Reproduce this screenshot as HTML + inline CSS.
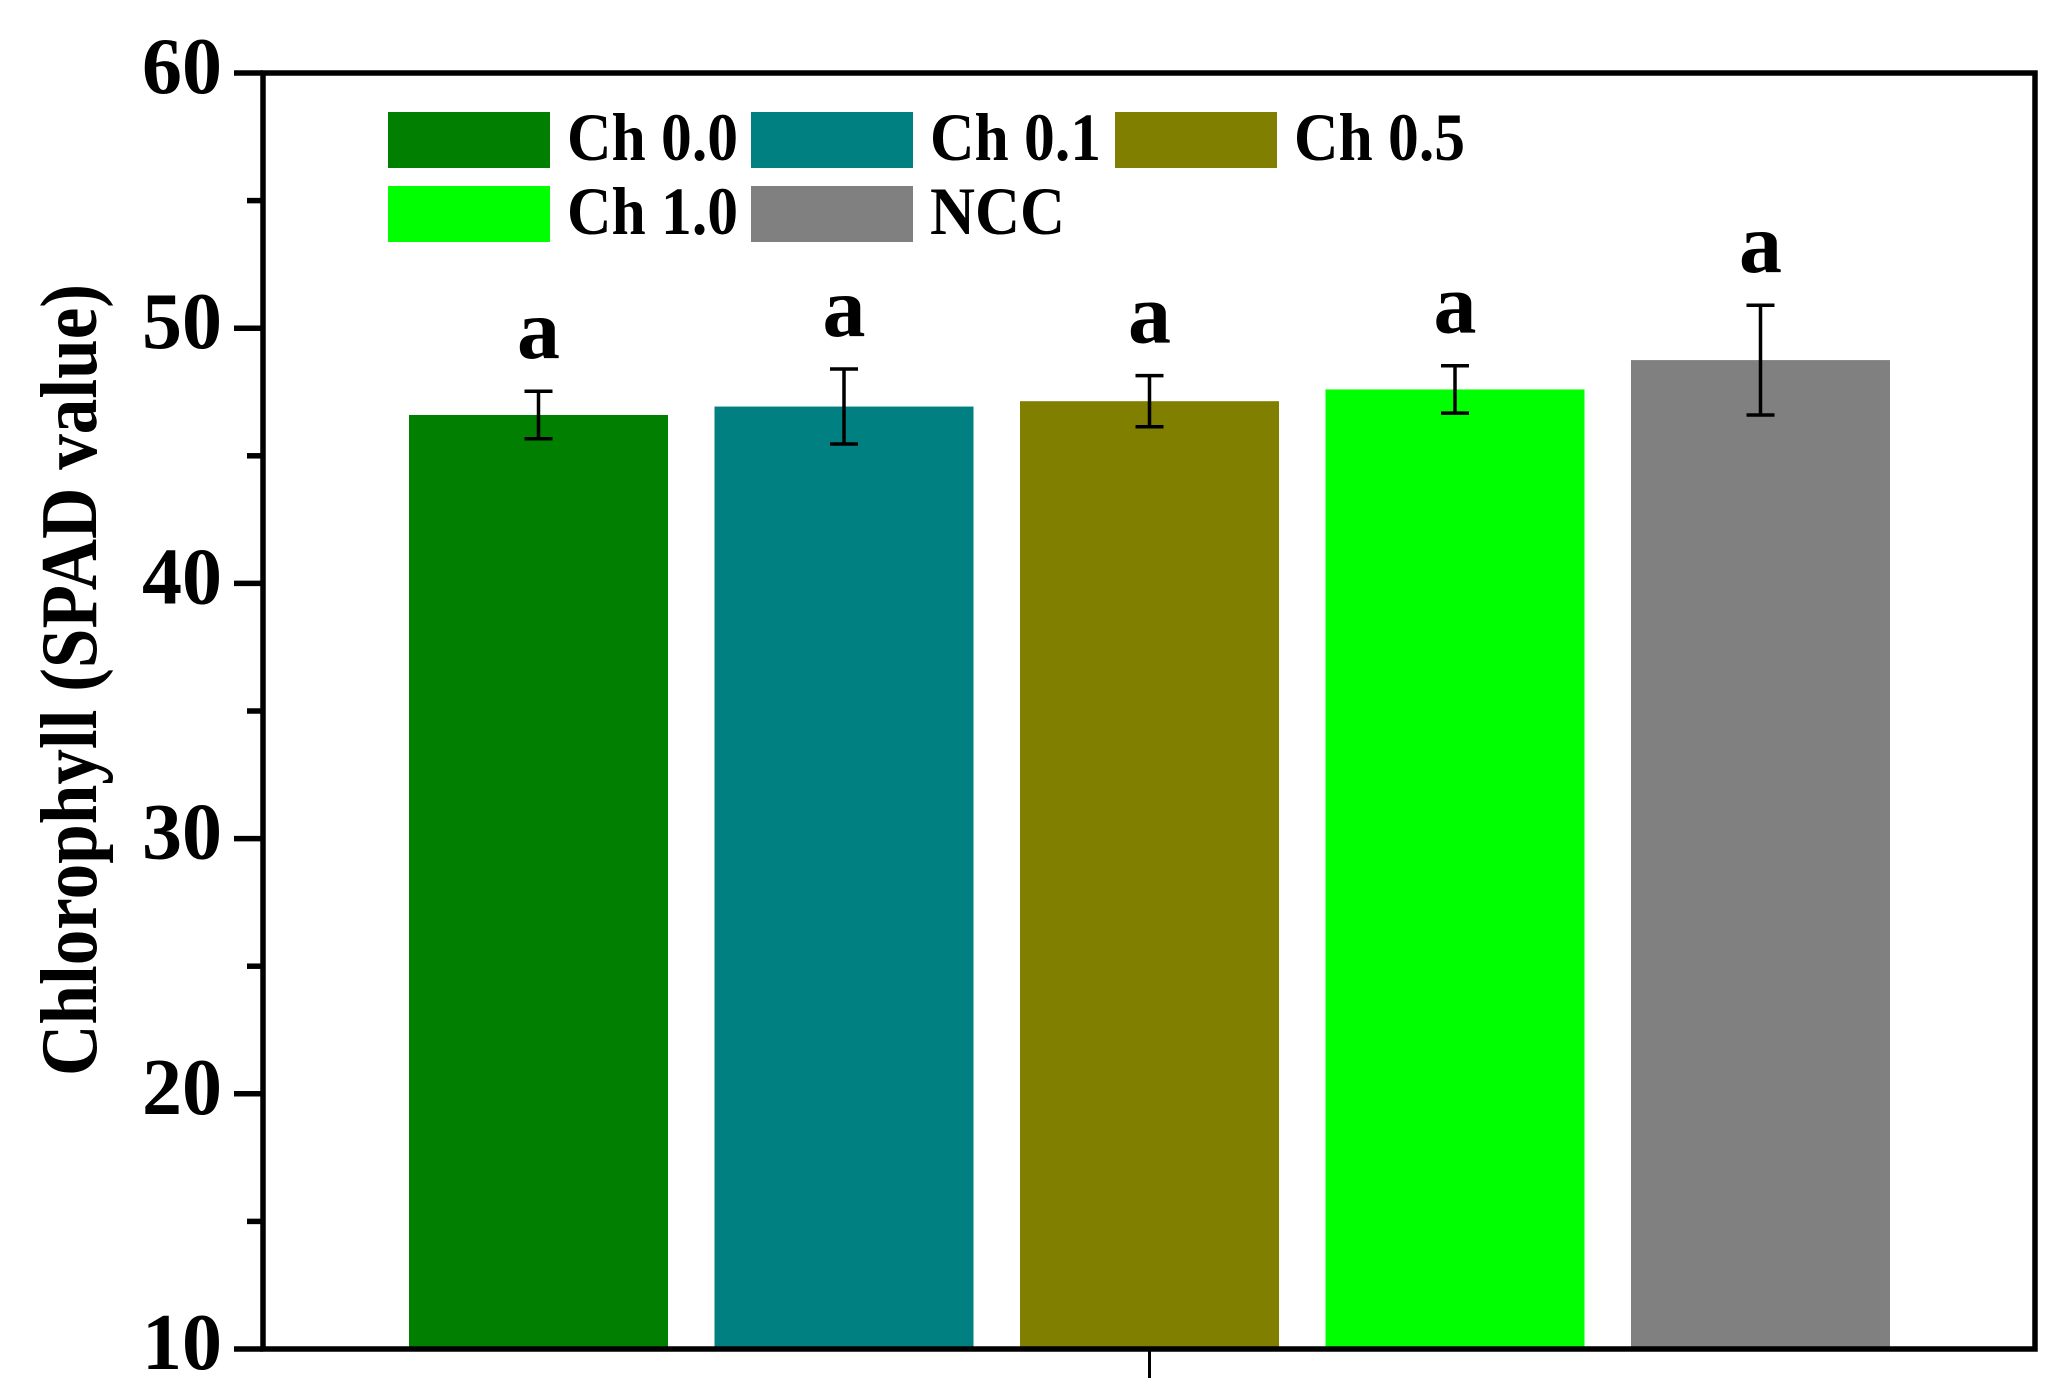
<!DOCTYPE html>
<html><head><meta charset="utf-8"><style>
html,body{margin:0;padding:0;background:#fff;}
svg{display:block;font-family:"Liberation Serif",serif;font-weight:bold;}
</style></head><body>
<svg id="chart" width="2069" height="1385" viewBox="0 0 2069 1385" xmlns="http://www.w3.org/2000/svg"></svg>
<script>
const categories = ["Ch 0.0","Ch 0.1","Ch 0.5","Ch 1.0","NCC"];
const values = [46.6, 46.93, 47.14, 47.6, 48.75];
const errors = [0.93, 1.47, 1.0, 0.93, 2.15];
const letters = ["a","a","a","a","a"];
const colors = ["#007f00","#008080","#807f00","#00ff00","#808080"];
const yTicks = [10,20,30,40,50,60];
const yMinor = [15,25,35,45,55];

const NS="http://www.w3.org/2000/svg";
const svg=document.getElementById('chart');
const L=263,R=2035,T=73,B=1349,yMin=10,yMax=60;
const y=v=>B-(v-yMin)/(yMax-yMin)*(B-T);
const barW=259,step=305.5,x0=409;
const xb=i=>x0+i*step;
function mk(tag,attrs){const e=document.createElementNS(NS,tag);for(const k in attrs)e.setAttribute(k,attrs[k]);svg.appendChild(e);return e;}

values.forEach((v,i)=>{
  const r=mk('rect',{x:xb(i),y:y(v),width:barW,height:B-y(v),fill:colors[i]});
  
  
  const cx=xb(i)+barW/2, t=y(v+errors[i]), b=y(v-errors[i]);
  const g=document.createElementNS(NS,'g');svg.appendChild(g);
  
  
  [[cx,t,cx,b],[cx-14,t,cx+14,t],[cx-14,b,cx+14,b]].forEach(c=>{
    const l=document.createElementNS(NS,'line');
    l.setAttribute('x1',c[0]);l.setAttribute('y1',c[1]);l.setAttribute('x2',c[2]);l.setAttribute('y2',c[3]);
    l.setAttribute('stroke','#000');l.setAttribute('stroke-width','3.5');g.appendChild(l);
  });
  const tx=mk('text',{x:cx,y:t-33,'text-anchor':'middle','font-size':86});
  tx.textContent=letters[i];
  
  
});

// axes frame
const fr=mk('rect',{x:L,y:T,width:R-L,height:B-T,fill:'none',stroke:'#000','stroke-width':5.5});


yTicks.forEach(v=>{
  const l=mk('line',{x1:234,y1:y(v),x2:L,y2:y(v),stroke:'#000','stroke-width':5.5});
  
  
  const t=mk('text',{x:222,y:y(v)+20,'text-anchor':'end','font-size':80});
  t.textContent=v;
  
  
});
yMinor.forEach(v=>{
  const l=mk('line',{x1:247,y1:y(v),x2:L,y2:y(v),stroke:'#000','stroke-width':5.5});
  
  
});
const xt=mk('line',{x1:1149.5,y1:B,x2:1149.5,y2:1378,stroke:'#000','stroke-width':3});



const yt=mk('text',{x:0,y:0,'text-anchor':'middle','font-size':80,transform:'translate(96,680) rotate(-90)',textLength:792,lengthAdjust:'spacingAndGlyphs'});
yt.textContent='Chlorophyll (SPAD value)';



// legend
const legPos=[[388,112],[751,112],[1115,112],[388,186],[751,186]];
const legW=[171,171,171,171,135];
categories.forEach((c,i)=>{
  const [lx,ly]=legPos[i];
  const g=document.createElementNS(NS,'g');svg.appendChild(g);
  
  
  const r=document.createElementNS(NS,'rect');
  r.setAttribute('x',lx);r.setAttribute('y',ly);r.setAttribute('width',162);r.setAttribute('height',56);r.setAttribute('fill',colors[i]);
  g.appendChild(r);
  const t=document.createElementNS(NS,'text');
  t.setAttribute('x',lx+179);t.setAttribute('y',ly+48);t.setAttribute('font-size',68);
  t.setAttribute('textLength',legW[i]);t.setAttribute('lengthAdjust','spacingAndGlyphs');
  t.textContent=c;g.appendChild(t);
});
</script>
</body></html>
